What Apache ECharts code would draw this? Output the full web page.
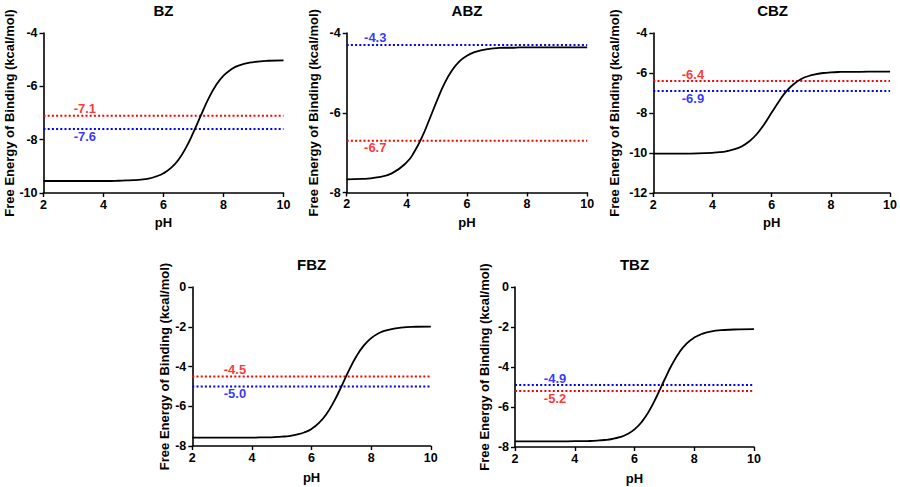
<!DOCTYPE html>
<html>
<head>
<meta charset="utf-8">
<script src="https://cdn.jsdelivr.net/npm/echarts@6/dist/echarts.min.js"></script>
<style>html,body{margin:0;padding:0;background:#fff}#c{width:900px;height:487px}</style>
</head>
<body>
<div id="c"></div>
<script>
// ---------- data ----------
const panelNames = ['BZ', 'ABZ', 'CBZ', 'FBZ', 'TBZ'];
const phValues = [2, 2.5, 3, 3.5, 4, 4.25, 4.5, 4.75, 5, 5.25, 5.5, 5.75, 6, 6.25, 6.5, 6.75, 7, 7.25, 7.5, 7.75, 8, 8.25, 8.5, 9, 9.5, 10];
const bzCurve  = [-9.55, -9.55, -9.55, -9.55, -9.55, -9.55, -9.54, -9.53, -9.52, -9.50, -9.46, -9.38, -9.26, -9.06, -8.75, -8.30, -7.72, -7.08, -6.46, -5.96, -5.60, -5.37, -5.22, -5.09, -5.04, -5.03];
const abzCurve = [-7.67, -7.66, -7.62, -7.52, -7.24, -6.98, -6.62, -6.17, -5.70, -5.27, -4.94, -4.71, -4.57, -4.48, -4.43, -4.40, -4.38, -4.37, -4.37, -4.36, -4.36, -4.36, -4.36, -4.36, -4.36, -4.36];
const cbzCurve = [-10.03, -10.03, -10.03, -10.02, -9.99, -9.96, -9.90, -9.81, -9.66, -9.41, -9.05, -8.56, -7.98, -7.41, -6.91, -6.55, -6.30, -6.15, -6.06, -6.00, -5.97, -5.95, -5.94, -5.94, -5.93, -5.93];
const fbzCurve = [-7.58, -7.58, -7.58, -7.58, -7.58, -7.57, -7.57, -7.55, -7.53, -7.50, -7.43, -7.32, -7.14, -6.84, -6.39, -5.77, -5.01, -4.21, -3.50, -2.95, -2.57, -2.33, -2.18, -2.04, -2.00, -1.99];
const tbzCurve = [-7.72, -7.72, -7.72, -7.72, -7.71, -7.71, -7.70, -7.68, -7.65, -7.60, -7.51, -7.36, -7.12, -6.73, -6.17, -5.45, -4.65, -3.89, -3.27, -2.82, -2.53, -2.35, -2.24, -2.15, -2.12, -2.11];
const redRef  = [-7.1, -6.7, -6.4, -4.5, -5.2];
const blueRef = [-7.6, -4.3, -6.9, -5.0, -4.9];
const yMinValues = [-10, -8, -12, -8, -8];
const yMaxValues = [-4, -4, -4, 0, 0];
const xTicks = [2, 4, 6, 8, 10];
const xAxisTitle = 'pH';
const yAxisTitle = 'Free Energy of Binding (kcal/mol)';

// ---------- layout ----------
const curves = [bzCurve, abzCurve, cbzCurve, fbzCurve, tbzCurve];
const grids = [
  {left: 43.5, top: 33, width: 240, height: 160, yGap: 27, xGap: 23, labelX: 3.38},
  {left: 346.7, top: 33, width: 240.5, height: 159.5, yGap: 27, xGap: 23, labelX: 2.95},
  {left: 653.3, top: 33, width: 238.5, height: 160, yGap: 32, xGap: 23, labelX: 3.34},
  {left: 192.3, top: 287, width: 238.5, height: 159, yGap: 21, xGap: 25, labelX: 3.43},
  {left: 515, top: 287, width: 239, height: 160, yGap: 24, xGap: 25, labelX: 3.34}
];
const FONT = '"Liberation Sans", Arial, Helvetica, sans-serif';
const RED = '#ff0000', BLUE = '#0000ff';

const option = {
  backgroundColor: '#fff',
  animation: false,
  grid: [], xAxis: [], yAxis: [], series: [], graphic: []
};

grids.forEach((g, i) => {
  option.grid.push({left: g.left, top: g.top, width: g.width, height: g.height, containLabel: false});
  const axisCommon = {
    axisLine: {show: true, onZero: false, lineStyle: {color: '#000', width: 1.6}},
    axisTick: {show: true, length: 4, lineStyle: {color: '#000', width: 1.4}},
    splitLine: {show: false},
    axisLabel: {color: '#000', fontWeight: 'bold', fontSize: 12.5, fontFamily: FONT}
  };
  option.xAxis.push(Object.assign({}, axisCommon, {
    gridIndex: i, type: 'value', min: xTicks[0], max: xTicks[xTicks.length - 1], interval: xTicks[1] - xTicks[0],
    name: xAxisTitle, nameLocation: 'middle', nameGap: g.xGap,
    nameTextStyle: {color: '#000', fontWeight: 'bold', fontFamily: FONT, fontSize: 13},
    axisLabel: Object.assign({}, axisCommon.axisLabel, {margin: 5})
  }));
  option.yAxis.push(Object.assign({}, axisCommon, {
    gridIndex: i, type: 'value', min: yMinValues[i], max: yMaxValues[i], interval: 2,
    name: yAxisTitle, nameLocation: 'middle', nameGap: g.yGap,
    nameTextStyle: {color: '#000', fontWeight: 'bold', fontFamily: FONT, fontSize: 13},
    axisLabel: Object.assign({}, axisCommon.axisLabel, {margin: 6})
  }));
  // sigmoid curve
  option.series.push({
    type: 'line', xAxisIndex: i, yAxisIndex: i, showSymbol: false, symbol: 'none',
    smooth: true,
    lineStyle: {color: '#000', width: 1.8},
    data: phValues.map((p, k) => [p, curves[i][k]]),
    z: 3
  });
  // reference lines
  [[redRef[i], RED, blueRef[i]], [blueRef[i], BLUE, redRef[i]]].forEach(([v, col, other]) => {
    option.series.push({
      type: 'line', xAxisIndex: i, yAxisIndex: i, showSymbol: false, symbol: 'none',
      lineStyle: {color: col, width: 2, type: [2, 2.2]},
      data: [[xTicks[0], v], [xTicks[xTicks.length - 1], v]],
      z: 2
    });
    option.series.push({
      type: 'scatter', xAxisIndex: i, yAxisIndex: i, symbolSize: 0,
      data: [[g.labelX, v]],
      label: {
        show: true, position: v > other ? 'top' : 'bottom', distance: 0.5,
        formatter: p => p.value[1].toFixed(1),
        color: col, fontWeight: 'bold', fontSize: 13, fontFamily: FONT
      },
      z: 4
    });
  });
  // panel title
  option.graphic.push({
    type: 'text', x: g.left + g.width / 2, y: g.top - 23,
    style: {text: panelNames[i], fill: '#000', font: 'bold 15px ' + FONT, textAlign: 'center', textVerticalAlign: 'middle'}
  });
});

const chart = echarts.init(document.getElementById('c'), null, {renderer: 'svg', width: 900, height: 487});
chart.setOption(option);
</script>
</body>
</html>
